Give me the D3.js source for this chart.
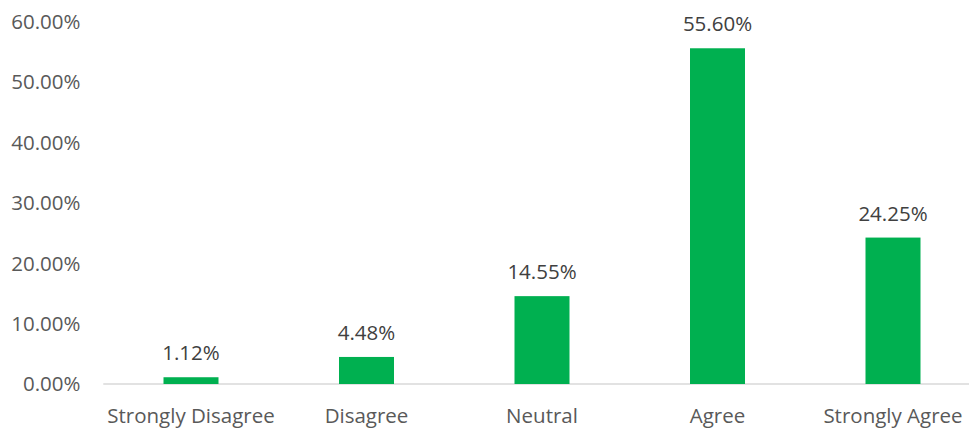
<!DOCTYPE html>
<html><head><meta charset="utf-8">
<script src="https://cdn.jsdelivr.net/npm/d3@7"></script>
<style>body{margin:0;background:#fff}</style>
</head><body>
<svg id="c" width="969" height="428"></svg>
<script>
const categories = ["Strongly Disagree","Disagree","Neutral","Agree","Strongly Agree"];
const values = [1.12, 4.48, 14.55, 55.60, 24.25];
const yTicks = [0,10,20,30,40,50,60];

const svg = d3.select("#c");
const font = "'Open Sans', sans-serif";
const fs = 20.5;
const x = d3.scaleBand().domain(categories).range([103.25, 980.75]).paddingInner(0.6866).paddingOuter(0.3433);
const y = d3.scaleLinear().domain([0,60]).range([384, 21.7]);

// y tick labels
svg.append("g").selectAll("text").data(yTicks).join("text")
  .attr("x", 80.5).attr("y", d => y(d)).attr("dy", "0.36em")
  .attr("text-anchor","end").attr("font-family",font).attr("font-size",fs).attr("fill","#595959")
  .text(d => d.toFixed(2) + "%");

// baseline
svg.append("line").attr("x1",103.25).attr("x2",980.75).attr("y1",y(0)).attr("y2",y(0))
  .attr("stroke","#D9D9D9").attr("stroke-width",1.5);

// bars
svg.append("g").selectAll("rect").data(values).join("rect")
  .attr("x",(d,i)=>x(categories[i])).attr("width",x.bandwidth())
  .attr("y",d=>y(d)).attr("height",d=>y(0)-y(d)).attr("fill","#00B050");

// data labels
svg.append("g").selectAll("text").data(values).join("text")
  .attr("x",(d,i)=>x(categories[i])+x.bandwidth()/2).attr("y",d=>y(d)-17)
  .attr("text-anchor","middle").attr("font-family",font).attr("font-size",fs).attr("fill","#404040")
  .text(d=>d.toFixed(2)+"%");

// category labels
svg.append("g").selectAll("text").data(categories).join("text")
  .attr("x",d=>x(d)+x.bandwidth()/2).attr("y",423)
  .attr("text-anchor","middle").attr("font-family",font).attr("font-size",fs).attr("fill","#595959")
  .text(d=>d);
</script>
</body></html>
